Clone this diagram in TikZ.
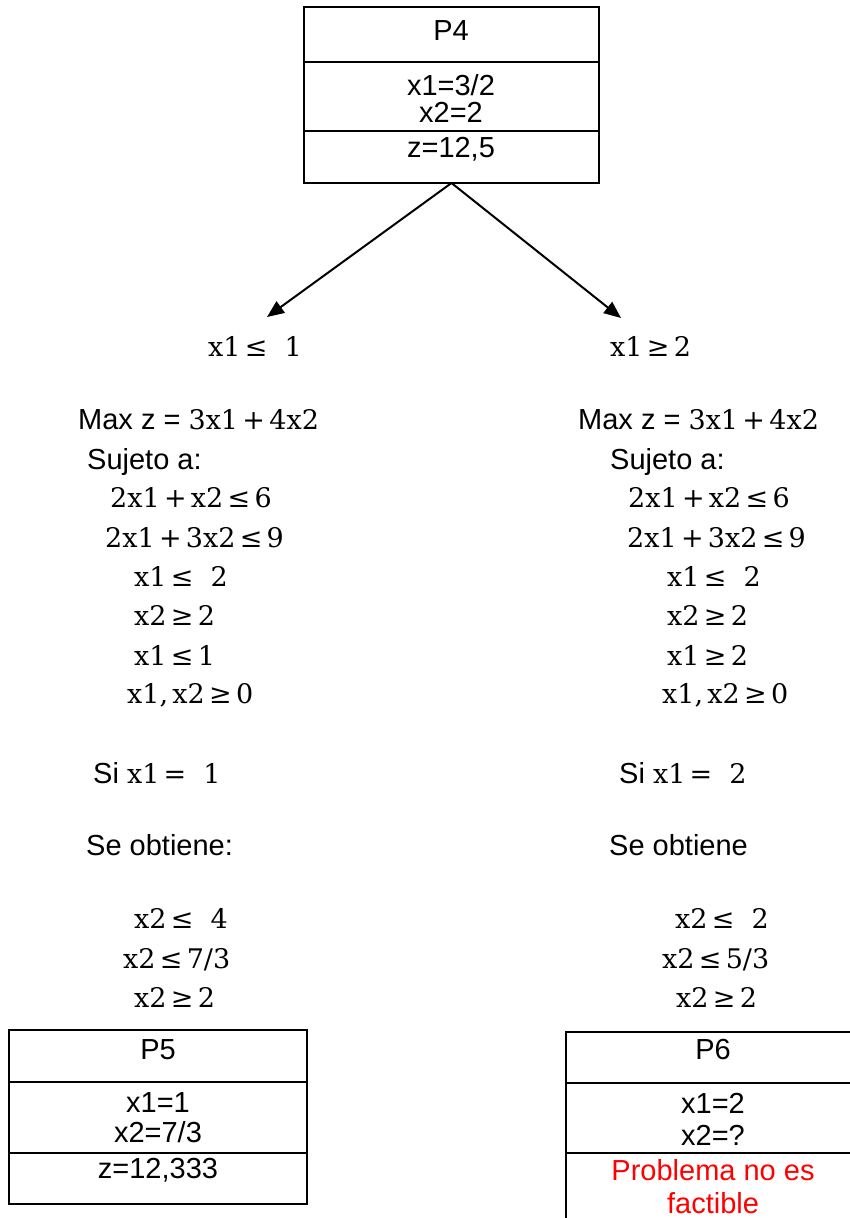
\documentclass[tikz,border=0pt]{standalone}
\usepackage{fontspec}
\setmainfont{Liberation Sans}
\newfontfamily\mathserif{DejaVu Serif}[WordSpace=0.5]
\usetikzlibrary{arrows.meta}

\newcommand{\boxfont}{\fontsize{29}{33}\selectfont}
\newcommand{\eqfont}{\mathserif\fontsize{27}{31}\selectfont}
\newcommand{\gap}{\hspace{17pt}}

\begin{document}
\begin{tikzpicture}[x=1pt, y=-1pt,
  cell/.style={draw, line width=2.2pt, inner sep=0pt, outer sep=0pt, anchor=north west},
  txt/.style={inner sep=0pt, anchor=base, font=\boxfont},
  plain/.style={inner sep=0pt, anchor=base west, font=\boxfont},
  eq/.style={inner sep=0pt, anchor=base west, font=\eqfont},
  branch/.style={-{Triangle[length=17pt,width=14pt]}, line width=2pt}]
\useasboundingbox (0,0) rectangle (850,1218);
\clip (0,0) rectangle (850,1218);

% P4
\node[cell, minimum width=295pt, minimum height=55pt] (p4head) at (304,7) {};
\node[cell, minimum width=295pt, minimum height=69pt] (p4vars) at (p4head.south west) {};
\node[cell, minimum width=295pt, minimum height=52pt] (p4obj) at (p4vars.south west) {};
\node[txt] (p4name) at (451,40) {P4};
\node[txt] (p4x1) at (451,95) {x1=3/2};
\node[txt] (p4x2) at (451,122) {x2=2};
\node[txt] (p4z) at (451,157) {z=12,5};

% branches
\coordinate (lefttip) at (267,317);
\coordinate (righttip) at (621,318);
\draw[branch] (p4obj.south) -- (lefttip);
\draw[branch] (p4obj.south) -- (righttip);
\node[eq] (lcut) at (208,356) {x1 ≤\gap 1};
\node[eq] (rcut) at (610,356) {x1 ≥ 2};

% left subproblem
\node[plain] (lmax) at (78,429) {Max z = {\eqfont 3x1 + 4x2}};
\node[plain] (lsuj) at (87,469) {Sujeto a:};
\node[eq] (lc1) at (110,507) {2x1 + x2 ≤ 6};
\node[eq] (lc2) at (105,547) {2x1 + 3x2 ≤ 9};
\node[eq] (lc3) at (134,586) {x1 ≤\gap 2};
\node[eq] (lc4) at (134,625) {x2 ≥ 2};
\node[eq] (lc5) at (134,665) {x1 ≤ 1};
\node[eq] (lc6) at (127,703) {x1, x2 ≥ 0};
\node[plain] (lsi) at (93,783) {Si {\eqfont x1 =\gap 1}};
\node[plain] (lobt) at (86,855) {Se obtiene:};
\node[eq] (lr1) at (134,928) {x2 ≤\gap 4};
\node[eq] (lr2) at (123,968) {x2 ≤ 7/3};
\node[eq] (lr3) at (134,1007) {x2 ≥ 2};

% right subproblem
\node[plain] (rmax) at (578,429) {Max z = {\eqfont 3x1 + 4x2}};
\node[plain] (rsuj) at (610,469) {Sujeto a:};
\node[eq] (rc1) at (628,507) {2x1 + x2 ≤ 6};
\node[eq] (rc2) at (627,547) {2x1 + 3x2 ≤ 9};
\node[eq] (rc3) at (667,586) {x1 ≤\gap 2};
\node[eq] (rc4) at (667,625) {x2 ≥ 2};
\node[eq] (rc5) at (667,665) {x1 ≥ 2};
\node[eq] (rc6) at (662,703) {x1, x2 ≥ 0};
\node[plain] (rsi) at (619,783) {Si {\eqfont x1 =\gap 2}};
\node[plain] (robt) at (609,855) {Se obtiene};
\node[eq] (rr1) at (675,928) {x2 ≤\gap 2};
\node[eq] (rr2) at (662,968) {x2 ≤ 5/3};
\node[eq] (rr3) at (676,1007) {x2 ≥ 2};

% P5
\node[cell, minimum width=298pt, minimum height=52pt] (p5head) at (9,1030) {};
\node[cell, minimum width=298pt, minimum height=71pt] (p5vars) at (p5head.south west) {};
\node[cell, minimum width=298pt, minimum height=51pt] (p5obj) at (p5vars.south west) {};
\node[txt] (p5name) at (158,1059) {P5};
\node[txt] (p5x1) at (158,1112) {x1=1};
\node[txt] (p5x2) at (158,1142) {x2=7/3};
\node[txt] (p5z) at (158,1178) {z=12,333};

% P6
\node[cell, minimum width=300pt, minimum height=51pt] (p6head) at (566,1032) {};
\node[cell, minimum width=300pt, minimum height=70pt] (p6vars) at (p6head.south west) {};
\node[cell, minimum width=300pt, minimum height=80pt] (p6obj) at (p6vars.south west) {};
\node[txt] (p6name) at (713,1059) {P6};
\node[txt] (p6x1) at (713,1113) {x1=2};
\node[txt] (p6x2) at (713,1145) {x2=?};
\node[txt, text=red] (p6msg) at (713,1180) {Problema no es};
\node[txt, text=red] (p6msg2) at (713,1213) {factible};
\end{tikzpicture}
\end{document}
